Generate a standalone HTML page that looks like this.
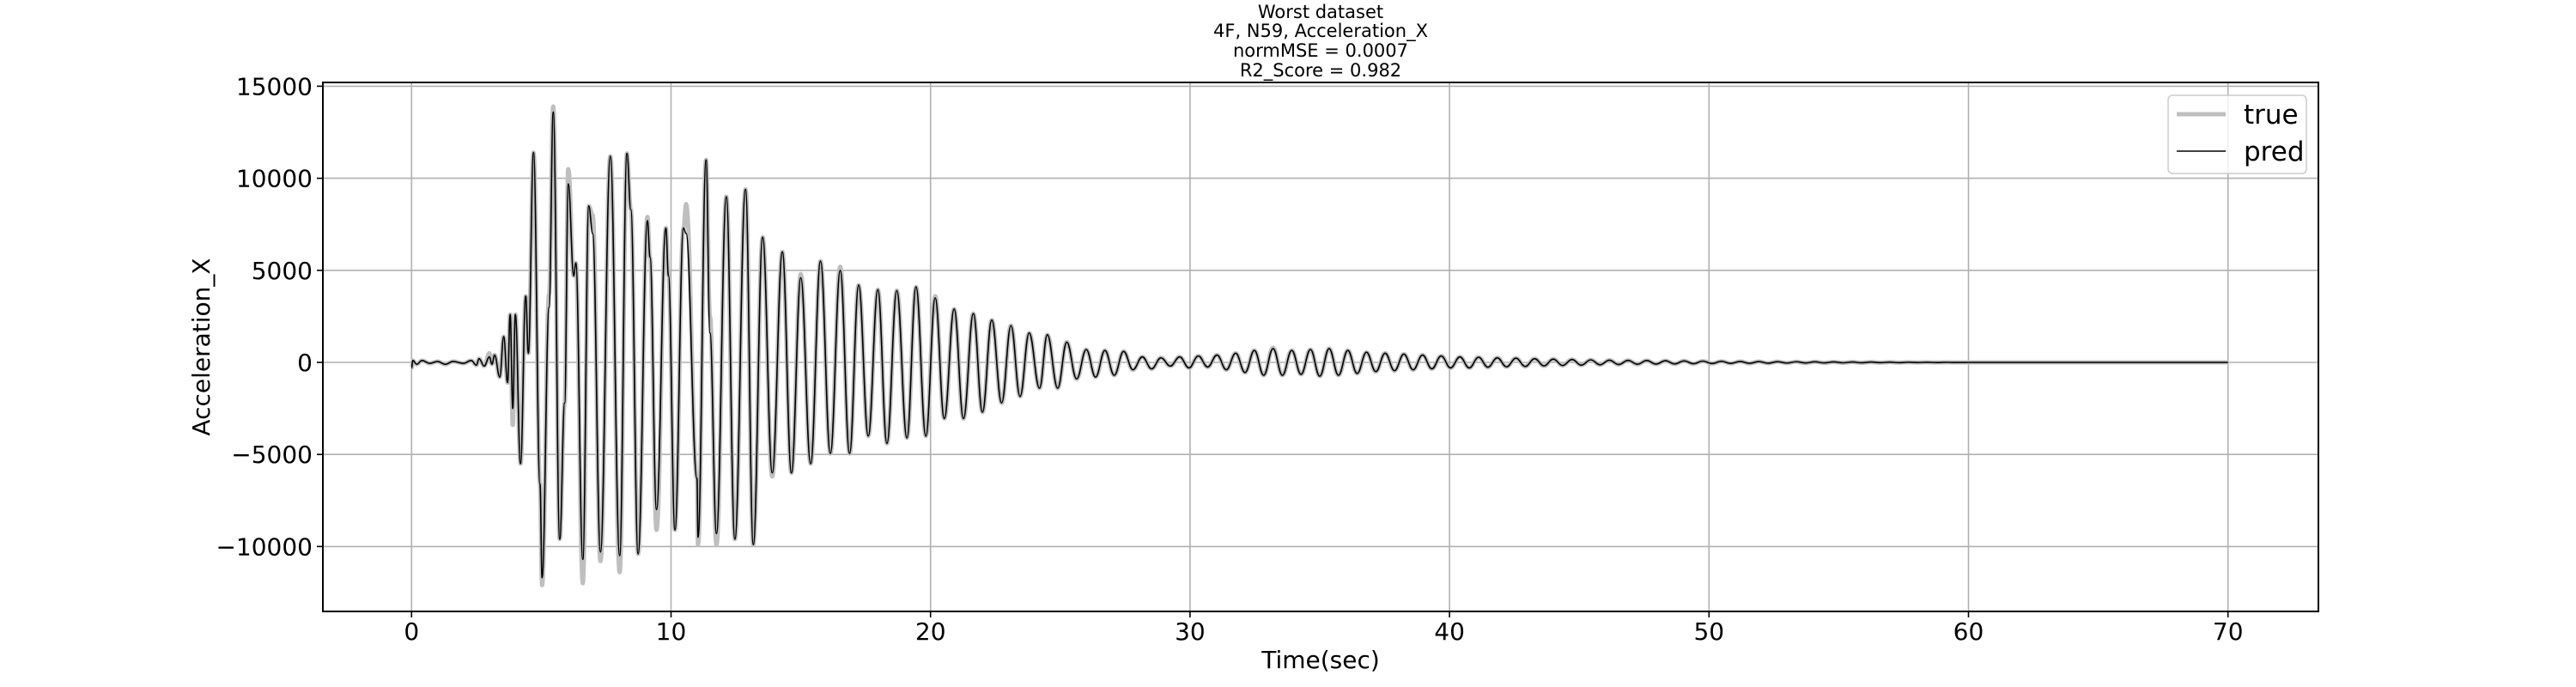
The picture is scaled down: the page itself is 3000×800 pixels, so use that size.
<!DOCTYPE html>
<html><head><meta charset="utf-8"><style>
html,body{margin:0;padding:0;background:#fff}
svg{display:block}
text{font-family:"DejaVu Sans","Liberation Sans",sans-serif;fill:#000}
</style></head><body>
<svg id="chart" width="3000" height="800" viewBox="0 0 3000 800" xmlns="http://www.w3.org/2000/svg">
<g font-size="21" text-anchor="middle">
<text x="1538" y="21">Worst dataset</text>
<text x="1538" y="43">4F, N59, Acceleration_X</text>
<text x="1538" y="66">normMSE = 0.0007</text>
<text x="1538" y="89">R2_Score = 0.982</text>
</g>
<g id="grid"></g>
<g id="series"></g>
<rect x="376" y="96" width="2324" height="616" fill="none" stroke="#000" stroke-width="2"/>
<g id="ticks"></g>
<text x="1538" y="778" font-size="28" text-anchor="middle">Time(sec)</text>
<text x="0" y="0" font-size="28" text-anchor="middle" transform="translate(244,404) rotate(-90)">Acceleration_X</text>
<g>
<rect x="2525" y="111" width="161" height="91" rx="5" fill="#fff" fill-opacity="0.8" stroke="#ccc" stroke-width="1.5"/>
<line x1="2535" y1="133" x2="2592" y2="133" stroke="#bfbfbf" stroke-width="5"/>
<text x="2613" y="144" font-size="31">true</text>
<line x1="2535" y1="176" x2="2592" y2="176" stroke="#000" stroke-width="1.6"/>
<text x="2613" y="187" font-size="31">pred</text>
</g>
</svg>
<script>
const xTicks = [0,10,20,30,40,50,60,70];
const yTicks = [-10000,-5000,0,5000,10000,15000];
const yTickLabels = ["\u221210000","\u22125000","0","5000","10000","15000"];
// [time, pred, true] extrema samples
const samples = [
[0,-300,-300],[0.05,100,100],[0.2,-100,-100],[0.4,100,100],[0.7,-50,-50],[1.0,50,50],[1.3,-100,-100],[1.6,50,50],[2.0,-50,-50],[2.3,100,100],[2.5,-150,-150],[2.6,200,200],[2.8,-200,-200],[3.0,300,500],[3.1,-100,-100],[3.2,400,400],
[3.4,-800,-800],[3.55,1400,1400],[3.7,-1100,-1100],[3.8,2600,2600],[3.9,-2500,-3400],[4.0,2600,2600],[4.2,-5500,-5500],[4.4,3600,3600],[4.5,500,500],[4.7,11400,11400],[4.95,-6600,-6600],[5.03,-11700,-12100],[5.3,3000,3700],[5.46,13600,13900],[5.71,-9600,-9600],[5.9,-2200,-2200],[6.04,9700,10500],[6.25,4700,4700],[6.33,5400,5400],[6.6,-10700,-12000],[6.83,8500,8500],[6.98,7000,8000],[7.28,-10300,-10800],[7.66,11200,11200],[8.02,-10500,-11400],[8.3,11350,11350],[8.45,8300,8300],[8.73,-10400,-10400],[9.09,7700,7900],[9.19,5700,5700],[9.44,-8000,-9100],[9.8,7300,7300],[9.9,4700,4700],[10.15,-9100,-9100],[10.48,7300,7300],[10.58,7000,8600],[11.0,-6300,-6300],[11.04,-9500,-9900],[11.35,11000,11000],[11.5,1600,2500],[11.75,-9300,-9900],[12.13,9000,9000],[12.46,-9600,-9600],[12.87,9400,9400],[13.17,-9900,-9900],
[13.53,6800,6800],[13.9,-6000,-6200],[14.29,6000,6000],[14.64,-6000,-6000],[15.0,4600,4800],[15.38,-5500,-5500],[15.76,5500,5500],[16.14,-4950,-4950],[16.52,5000,5200],[16.88,-4950,-4950],[17.23,4200,4200],[17.6,-4000,-4000],[17.97,3950,3950],[18.32,-4400,-4400],[18.7,3900,3900],[19.09,-4100,-4100],[19.44,4100,4100],[19.82,-4000,-4000],[20.18,3500,3600],[20.53,-3050,-3050],[20.91,2900,2900],[21.27,-3050,-3050],[21.65,2650,2650],[22.0,-2700,-2700],[22.36,2300,2300],[22.74,-2200,-2200],[23.1,2000,2000],[23.45,-1850,-1850],[23.8,1600,1600],[24.2,-1400,-1400],[24.5,1500,1500],[24.9,-1400,-1400],[25.25,1100,1100],[25.63,-900,-900],
[26.0,700,700],[26.36,-800,-800],[26.72,650,650],[27.08,-700,-700],[27.44,600,600],[27.8,-400,-400],[28.16,300,300],[28.52,-350,-350],[28.88,250,250],[29.24,-200,-200],[29.6,300,300],[29.96,-300,-300],[30.32,350,350],[30.68,-250,-250],[31.04,400,400],[31.4,-400,-400],[31.76,500,500],[32.12,-550,-550],[32.48,650,650],[32.84,-700,-700],[33.2,750,800],[33.56,-700,-700],[33.92,650,650],[34.28,-650,-650],[34.64,700,700],[35.0,-750,-750],[35.36,750,750],[35.72,-700,-700],[36.08,650,650],[36.44,-600,-600],[36.8,550,550],[37.16,-500,-500],[37.52,500,500],[37.88,-450,-450],[38.24,450,450],[38.6,-400,-400],[38.96,400,400],[39.32,-350,-350],[39.68,350,350],[40.04,-300,-300],[40.4,300,300],[40.76,-300,-300],[41.12,280,280],[41.48,-260,-260],[41.84,250,250],[42.2,-240,-240],[42.56,230,230],[42.92,-220,-220],[43.28,200,200],[43.64,-190,-190],[44.0,180,180],[44.36,-170,-170],[44.72,160,160],[45.08,-150,-150],[45.44,140,140],[45.8,-130,-130],[46.16,120,120],[46.52,-115,-115],[46.88,110,110],[47.24,-100,-100],[47.6,100,100],[47.96,-90,-90],[48.32,90,90],[48.68,-80,-80],[49.04,80,80],[49.4,-70,-70],[49.76,70,70],[50.12,-60,-60],[50.48,60,60],[50.84,-55,-55],[51.2,50,50],[51.56,-50,-50],[51.92,45,45],[52.28,-45,-45],[52.64,40,40],[53.0,-35,-35],[53.36,35,35],[53.72,-30,-30],[54.08,30,30],[54.44,-28,-28],[54.8,26,26],[55.16,-24,-24],[55.52,22,22],[55.88,-20,-20],[56.24,18,18],[56.6,-16,-16],[56.96,15,15],[57.32,-14,-14],[57.68,12,12],[58.04,-10,-10],[58.4,9,9],[58.76,-8,-8],[59.12,6,6],[59.48,-5,-5],[60,0,0],[70,0,0]
];
const L=376,R=2700,T=96,B=712;
const xScale=t=>479.3+(t)*30.22;
const yScale=v=>422-v*0.02144;
const NS='http://www.w3.org/2000/svg';
const grid=document.getElementById('grid'),ticks=document.getElementById('ticks'),series=document.getElementById('series');
xTicks.forEach(t=>{
  const x=xScale(t);
  const g=document.createElementNS(NS,'line');
  g.setAttribute('x1',x);g.setAttribute('x2',x);g.setAttribute('y1',T);g.setAttribute('y2',B);
  g.setAttribute('stroke','#b0b0b0');g.setAttribute('stroke-width','1.6');
  
  
  grid.appendChild(g);
  const tk=document.createElementNS(NS,'line');
  tk.setAttribute('x1',x);tk.setAttribute('x2',x);tk.setAttribute('y1',B);tk.setAttribute('y2',B+7);
  tk.setAttribute('stroke','#000');tk.setAttribute('stroke-width','1.6');
  
  
  ticks.appendChild(tk);
  const tx=document.createElementNS(NS,'text');
  tx.setAttribute('x',x);tx.setAttribute('y',745);tx.setAttribute('font-size','28');tx.setAttribute('text-anchor','middle');
  tx.textContent=String(t);
  
  
  ticks.appendChild(tx);
});
yTicks.forEach((v,i)=>{
  const y=yScale(v);
  const g=document.createElementNS(NS,'line');
  g.setAttribute('x1',L);g.setAttribute('x2',R);g.setAttribute('y1',y);g.setAttribute('y2',y);
  g.setAttribute('stroke','#b0b0b0');g.setAttribute('stroke-width','1.6');
  
  
  grid.appendChild(g);
  const tk=document.createElementNS(NS,'line');
  tk.setAttribute('x1',L-7);tk.setAttribute('x2',L);tk.setAttribute('y1',y);tk.setAttribute('y2',y);
  tk.setAttribute('stroke','#000');tk.setAttribute('stroke-width','1.6');
  
  
  ticks.appendChild(tk);
  const tx=document.createElementNS(NS,'text');
  tx.setAttribute('x',364);tx.setAttribute('y',y+10);tx.setAttribute('font-size','28');tx.setAttribute('text-anchor','end');
  tx.textContent=yTickLabels[i];
  
  
  ticks.appendChild(tx);
});
function buildPath(idx){
  let d='';
  for(let i=0;i<samples.length;i++){
    const x=xScale(samples[i][0]),y=yScale(samples[i][idx]);
    if(i===0){d+='M'+x.toFixed(2)+','+y.toFixed(2);continue;}
    const px=xScale(samples[i-1][0]),py=yScale(samples[i-1][idx]);
    const dx=(x-px)*0.4;
    d+=' C'+(px+dx).toFixed(2)+','+py.toFixed(2)+' '+(x-dx).toFixed(2)+','+y.toFixed(2)+' '+x.toFixed(2)+','+y.toFixed(2);
  }
  return d;
}
const pTrue=document.createElementNS(NS,'path');
pTrue.setAttribute('d',buildPath(2));pTrue.setAttribute('fill','none');pTrue.setAttribute('stroke','#bfbfbf');pTrue.setAttribute('stroke-width','5');pTrue.setAttribute('stroke-linejoin','round');


series.appendChild(pTrue);
const pPred=document.createElementNS(NS,'path');
pPred.setAttribute('d',buildPath(1));pPred.setAttribute('fill','none');pPred.setAttribute('stroke','#000');pPred.setAttribute('stroke-width','1.6');pPred.setAttribute('stroke-linejoin','round');


series.appendChild(pPred);
</script>
</body></html>
